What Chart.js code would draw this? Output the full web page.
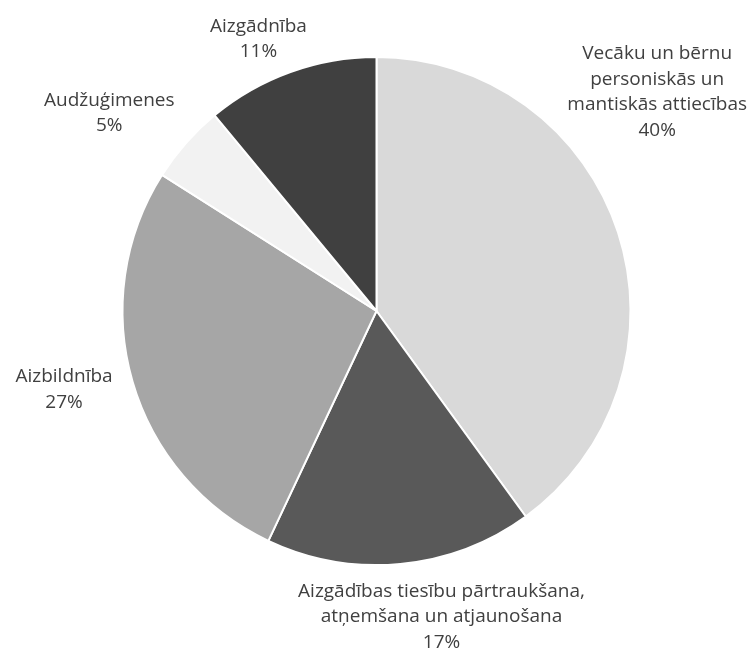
<!DOCTYPE html>
<html>
<head>
<meta charset="utf-8">
<script src="https://cdn.jsdelivr.net/npm/chart.js@4/dist/chart.umd.min.js"></script>
<style>
  html, body { margin: 0; padding: 0; background: #fff; }
  #wrap { width: 753px; height: 658px; position: relative; }
</style>
</head>
<body>
<div id="wrap"><canvas id="pieChart"></canvas></div>
<script>
// chart data
const categories = [
    ['Vecāku un bērnu', 'personiskās un', 'mantiskās attiecības'],
    ['Aizgādības tiesību pārtraukšana,', 'atņemšana un atjaunošana'],
    ['Aizbildnība'],
    ['Audžuģimenes'],
    ['Aizgādnība']
];
const shares = [40, 17, 27, 5, 11];
const sliceColors = ['#d9d9d9', '#595959', '#a6a6a6', '#f2f2f2', '#404040'];

// where each label sits, relative to the pie centre, in units of the radius
const labelAnchors = [
    [1.105, -0.862],
    [0.256, 1.205],
    [-1.23, 0.31],
    [-1.052, -0.78],
    [-0.465, -1.07]
];

const labelPlugin = {
    id: 'outsideLabels',
    afterDatasetsDraw(chart) {
        const ctx = chart.ctx;
        const meta = chart.getDatasetMeta(0);
        ctx.save();
        ctx.font = '19px "Open Sans", Lato, sans-serif';
        ctx.fillStyle = '#404040';
        ctx.textAlign = 'center';
        ctx.textBaseline = 'middle';
        const lineH = 25.5;
        meta.data.forEach(function(arc, i) {
            const r = arc.outerRadius;
            const cx = arc.x + labelAnchors[i][0] * r;
            const cy = arc.y + labelAnchors[i][1] * r;
            const lines = categories[i].concat([shares[i] + '%']);
            const top = cy - (lines.length - 1) * lineH / 2;
            lines.forEach(function(txt, j) {
                ctx.fillText(txt, cx, top + j * lineH);
            });
        });
        ctx.restore();
    }
};

document.addEventListener('DOMContentLoaded', function() {
    new Chart(document.getElementById('pieChart'), {
        type: 'pie',
        data: {
            labels: categories.map(function(c) { return c.join(' '); }),
            datasets: [{
                data: shares,
                backgroundColor: sliceColors,
                borderColor: '#ffffff',
                borderWidth: 2
            }]
        },
        options: {
            responsive: true,
            maintainAspectRatio: false,
            animation: false,
            layout: { padding: { top: 56, bottom: 92, left: 0, right: 0 } },
            plugins: {
                legend: { display: false },
                tooltip: { enabled: false }
            }
        },
        plugins: [labelPlugin]
    });
});
</script>
</body>
</html>
